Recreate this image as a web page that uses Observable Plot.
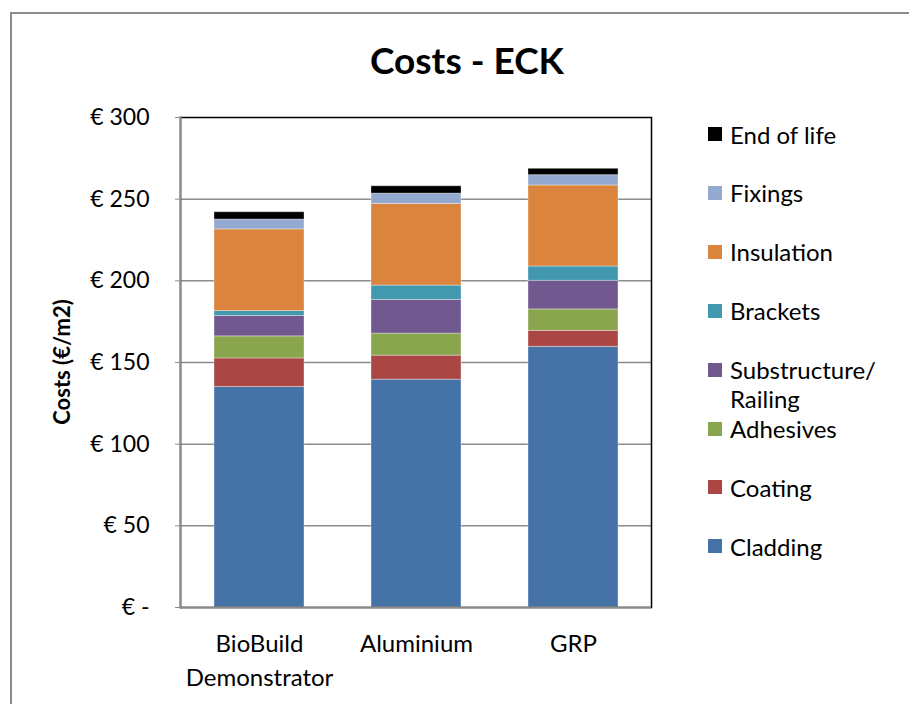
<!DOCTYPE html>
<html><head><meta charset="utf-8">
<script src="https://cdn.jsdelivr.net/npm/d3@7"></script>
<script src="https://cdn.jsdelivr.net/npm/@observablehq/plot@0.6"></script>
<style>
body{margin:0;width:909px;height:704px;overflow:hidden;background:#fff;font-family:Lato,sans-serif;position:relative;color:#000}
#border{position:absolute;left:10px;top:12px;width:1000px;height:1000px;border:2px solid #8c8c8c;box-sizing:border-box}
#chart{position:absolute;left:0;top:0}
#title{position:absolute;left:0;width:934px;top:41px;line-height:38px;text-align:center;font-weight:bold;font-size:37px}
#ylabel{position:absolute;left:-38px;top:350px;width:200px;height:24px;line-height:24px;text-align:center;font-weight:bold;font-size:22px;transform:rotate(-90deg)}
.lg{position:absolute;left:708px;font-size:24px;line-height:29px;white-space:nowrap}
.sw{position:absolute;left:0;width:14px;height:14px}
.lt{position:absolute;left:22px;top:0}
</style></head>
<body>
<div id="border"></div>
<div id="chart"></div>
<div id="title">Costs - ECK</div>
<div id="ylabel">Costs (€/m2)</div>
<div id="legend"></div>
<script>
const categories = ["BioBuild Demonstrator", "Aluminium", "GRP"];
const xTickLabels = ["BioBuild\nDemonstrator", "Aluminium", "GRP"];
const series = ["Cladding", "Coating", "Adhesives", "Substructure/ Railing", "Brackets", "Insulation", "Fixings", "End of life"];
const legendLabels = ["Cladding", "Coating", "Adhesives", "Substructure/\nRailing", "Brackets", "Insulation", "Fixings", "End of life"];
const colors = ["#4572A7", "#AA4643", "#89A54E", "#71588F", "#4198AF", "#DB843D", "#93A9CF", "#000000"];
const cladding = [135, 139.5, 159.6];
const coating = [17.5, 14.7, 9.8];
const adhesives = [13.5, 13.5, 13.1];
const substructure = [12.5, 20.6, 17.5];
const brackets = [3, 8.8, 8.8];
const insulation = [50, 50, 49.6];
const fixings = [6, 6.3, 6.3];
const endOfLife = [4.5, 4.5, 3.9];
const yTicks = [0, 50, 100, 150, 200, 250, 300];
const yTickLabels = ["€ -", "€ 50", "€ 100", "€ 150", "€ 200", "€ 250", "€ 300"];

const seriesValues = [cladding, coating, adhesives, substructure, brackets, insulation, fixings, endOfLife];
const data = [];
seriesValues.forEach((vals, s) => vals.forEach((v, c) => data.push({cat: categories[c], series: series[s], value: v})));

const chart = Plot.plot({
  width: 909, height: 704,
  marginLeft: 180, marginRight: 258, marginTop: 117, marginBottom: 97,
  style: {fontFamily: "Lato, sans-serif", fontSize: "24px", color: "#000", background: "transparent"},
  x: {domain: categories, paddingInner: 0.427, paddingOuter: 0.2135, label: null},
  y: {domain: [0, 300], label: null},
  color: {domain: series, range: colors},
  marks: [
    Plot.gridY(yTicks.filter(d => d > 0 && d < 300), {stroke: "#8c8c8c", strokeOpacity: 1, strokeWidth: 1.5}),
    Plot.barY(data, Plot.stackY({x: "cat", y: "value", fill: "series", order: null, stroke: "#ffffff", strokeOpacity: 0.35, strokeWidth: 1})),
    Plot.frame({stroke: "#000", strokeWidth: 1.5}),
    Plot.ruleY([0], {stroke: "#8c8c8c", strokeWidth: 2}),
    Plot.frame({anchor: "left", stroke: "#8c8c8c", strokeWidth: 2}),
    Plot.axisY({ticks: yTicks, tickFormat: d => yTickLabels[yTicks.indexOf(d)], tickSize: 5, tickPadding: 26, stroke: "#8c8c8c", fill: "#000", fontSize: 23, label: null}),
    Plot.axisX({tickSize: 0, tickPadding: 20, tickFormat: d => xTickLabels[categories.indexOf(d)], lineHeight: 1.42, fill: "#000", fontSize: 24, label: null})
  ]
});
document.getElementById("chart").appendChild(chart);

const legend = document.getElementById("legend");
const order = series.map((s, i) => i).reverse();
order.forEach((i, k) => {
  const cy = 134 + k * 58.9;
  const item = document.createElement("div");
  item.className = "lg";
  item.style.top = (cy - 14.5) + "px";
  const sw = document.createElement("div");
  sw.className = "sw";
  sw.style.background = colors[i];
  sw.style.top = "7.5px";
  const lt = document.createElement("div");
  lt.className = "lt";
  lt.innerHTML = legendLabels[i].split("\n").join("<br>");
  item.appendChild(sw); item.appendChild(lt);
  legend.appendChild(item);
});
</script>
</body></html>
